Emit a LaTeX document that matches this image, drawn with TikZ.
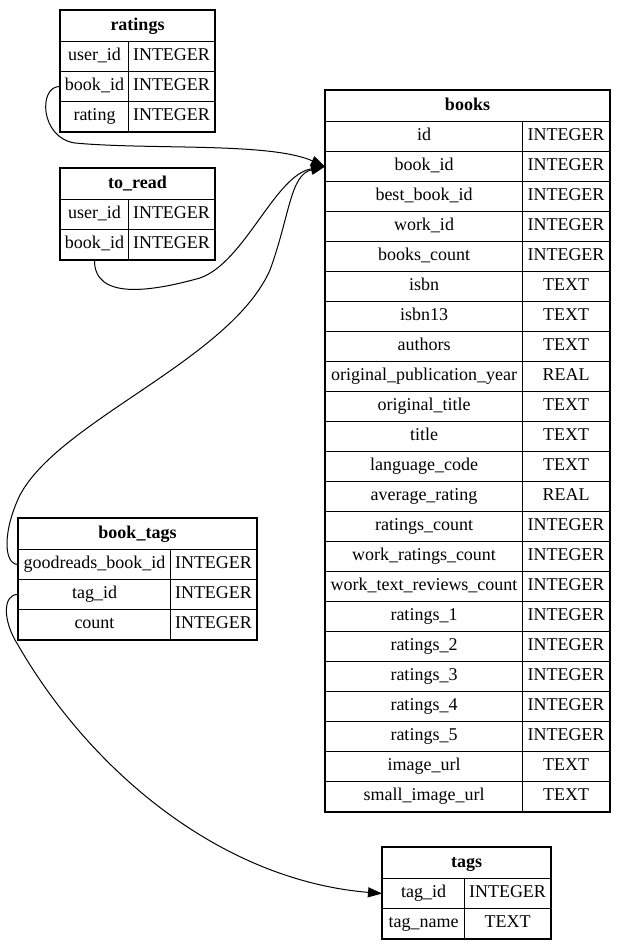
\documentclass[tikz,border=0pt]{standalone}
\usepackage{fontspec}
\setmainfont{Liberation Serif}
\usepackage{tikz}
\usetikzlibrary{arrows.meta, positioning}

\tikzset{
    cell/.style={draw, line width=1pt, minimum height=30, inner sep=0pt, anchor=north west, text height=12.5pt, text depth=4pt},
    head/.style={cell, minimum height=31, font=\fontsize{18}{20}\selectfont\bfseries},
    frame/.style={line width=2pt},
    fk/.style={line width=1pt, -{Triangle[length=14pt, width=10pt]}}
}

\begin{document}
\begin{tikzpicture}[x=1pt, y=-1pt, font=\fontsize{18}{20}\selectfont]
        \useasboundingbox (0,0) rectangle (624,950); % page size

        % ratings table
        \node[head, minimum width=154] (ratings) at (60,10) {ratings};
        \foreach \f/\t [count=\i] in {user\_id/INTEGER, book\_id/INTEGER, rating/INTEGER} {
            \node[cell, minimum width=68] (ratings-\i) at (60,11+30*\i) {\f};
            \node[cell, minimum width=86] (ratings-\i-t) at (128,11+30*\i) {\t};
        }
        \draw[frame] (ratings.north west) rectangle (ratings-3-t.south east);

        % to_read table
        \node[head, minimum width=154] (toread) at (60,168) {to\_read};
        \foreach \f/\t [count=\i] in {user\_id/INTEGER, book\_id/INTEGER} {
            \node[cell, minimum width=68] (toread-\i) at (60,169+30*\i) {\f};
            \node[cell, minimum width=86] (toread-\i-t) at (128,169+30*\i) {\t};
        }
        \draw[frame] (toread.north west) rectangle (toread-2-t.south east);

        % books table
        \node[head, minimum width=284] (books) at (325,90) {books};
        \foreach \f/\t [count=\i] in {id/INTEGER, book\_id/INTEGER, best\_book\_id/INTEGER, work\_id/INTEGER,
                books\_count/INTEGER, isbn/TEXT, isbn13/TEXT, authors/TEXT, original\_publication\_year/REAL,
                original\_title/TEXT, title/TEXT, language\_code/TEXT, average\_rating/REAL,
                ratings\_count/INTEGER, work\_ratings\_count/INTEGER, work\_text\_reviews\_count/INTEGER,
                ratings\_1/INTEGER, ratings\_2/INTEGER, ratings\_3/INTEGER, ratings\_4/INTEGER,
                ratings\_5/INTEGER, image\_url/TEXT, small\_image\_url/TEXT} {
            \node[cell, minimum width=197] (books-\i) at (325,91+30*\i) {\f};
            \node[cell, minimum width=87] (books-\i-t) at (522,91+30*\i) {\t};
        }
        \draw[frame] (books.north west) rectangle (books-23-t.south east);

        % book_tags table
        \node[head, minimum width=238] (booktags) at (18,518) {book\_tags};
        \foreach \f/\t [count=\i] in {goodreads\_book\_id/INTEGER, tag\_id/INTEGER, count/INTEGER} {
            \node[cell, minimum width=152] (booktags-\i) at (18,519+30*\i) {\f};
            \node[cell, minimum width=86] (booktags-\i-t) at (170,519+30*\i) {\t};
        }
        \draw[frame] (booktags.north west) rectangle (booktags-3-t.south east);

        % tags table
        \node[head, minimum width=168] (tags) at (382,847) {tags};
        \foreach \f/\t [count=\i] in {tag\_id/INTEGER, tag\_name/TEXT} {
            \node[cell, minimum width=82] (tags-\i) at (382,848+30*\i) {\f};
            \node[cell, minimum width=86] (tags-\i-t) at (464,848+30*\i) {\t};
        }
        \draw[frame] (tags.north west) rectangle (tags-2-t.south east);

        % foreign keys
        \draw[fk] (ratings-2.west) .. controls (38,86) and (40,138) .. (75,143)
            .. controls (150,150) and (270,142) .. (books-2.west); % ratings -> books
        \draw[fk] (toread-2.south) .. controls (94,300) and (150,292) .. (200,278)
            .. controls (245,262) and (275,175) .. (books-2.west); % to_read -> books
        \draw[fk] (booktags-1.west) .. controls (3,564) and (3,530) .. (20,495)
            .. controls (60,420) and (230,360) .. (270,270)
            .. controls (290,215) and (290,175) .. (books-2.west); % book_tags -> books
        \draw[fk] (booktags-2.west) .. controls (3,594) and (2,620) .. (18,645)
            .. controls (90,770) and (220,880) .. (tags-1.west); % book_tags -> tags
    \end{tikzpicture}
\end{document}
